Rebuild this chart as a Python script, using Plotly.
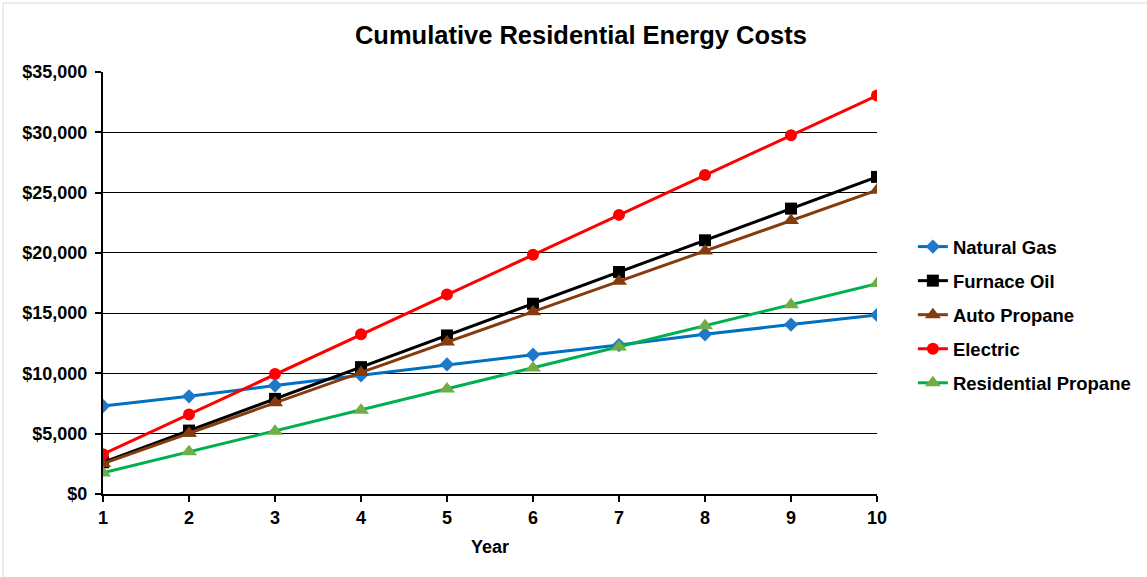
import plotly.graph_objects as go

years = [1, 2, 3, 4, 5, 6, 7, 8, 9, 10]
natural_gas = [7300, 8100, 9000, 9850, 10750, 11550, 12350, 13250, 14050, 14850]
furnace_oil = [2630, 5260, 7890, 10520, 13150, 15780, 18410, 21040, 23670, 26300]
auto_propane = [2520, 5040, 7560, 10080, 12600, 15120, 17640, 20160, 22680, 25200]
electric = [3300, 6600, 9950, 13250, 16550, 19850, 23150, 26450, 29750, 33050]
residential_propane = [1750, 3500, 5200, 6950, 8700, 10450, 12200, 13950, 15700, 17450]

y_ticks = [0, 5000, 10000, 15000, 20000, 25000, 30000, 35000]

series = [
    ("Natural Gas", natural_gas, "#0070C0", "#1F78C8", "diamond", 11),
    ("Furnace Oil", furnace_oil, "#000000", "#000000", "square", 12),
    ("Auto Propane", auto_propane, "#843C0C", "#843C0C", "triangle-up", 14),
    ("Electric", electric, "#FF0000", "#FF0000", "circle", 12),
    ("Residential Propane", residential_propane, "#00B050", "#70AD47", "triangle-up", 14),
]

fig = go.Figure()
for i, (name, vals, lc, mc, sym, size) in enumerate(series):
    fig.add_trace(go.Scatter(
        x=years, y=vals, name=f"<b>{name}</b>", mode="lines+markers",
        line=dict(color=lc, width=3),
        marker=dict(color=mc, symbol=sym, size=size),
        legendgroup=f"g{i}",
    ))

font_family = "Liberation Sans, Arial, sans-serif"

fig.update_layout(
    width=1147, height=577,
    margin=dict(l=103, r=269, t=72, b=83),
    paper_bgcolor="white", plot_bgcolor="white",
    font=dict(family=font_family, color="black"),
    title=dict(
        text="<b>Cumulative Residential Energy Costs</b>",
        x=0.5065, xref="container", xanchor="center",
        y=1 - 35 / 577, yref="container", yanchor="middle",
        font=dict(size=25.5, family=font_family, color="black"),
    ),
    showlegend=True,
    legend=dict(
        x=1.045, xanchor="left", y=0.424, yanchor="middle",
        font=dict(size=18.5, family=font_family, color="black"),
        tracegroupgap=7, itemwidth=30,
        bgcolor="rgba(0,0,0,0)",
    ),
    xaxis=dict(
        range=[1, 10], tickvals=years,
        ticktext=[f"<b>{y}</b>" for y in years],
        showgrid=False, zeroline=False,
        showline=True, linecolor="black", linewidth=2,
        ticks="outside", ticklen=6, tickcolor="black", tickwidth=1.5,
        tickfont=dict(size=18, family=font_family, color="black"),
        title=dict(text="<b>Year</b>", font=dict(size=18, family=font_family, color="black"), standoff=14),
    ),
    yaxis=dict(
        range=[0, 35000], tickvals=y_ticks,
        ticktext=[f"<b>${v:,}</b>" for v in y_ticks],
        showgrid=True, gridcolor="black", gridwidth=1,
        zeroline=False,
        showline=True, linecolor="black", linewidth=2,
        ticks="outside", ticklen=6, tickcolor="black", tickwidth=1.5,
        ticklabelstandoff=4,
        tickfont=dict(size=18, family=font_family, color="black"),
    ),
    shapes=[dict(
        type="rect", xref="paper", yref="paper",
        x0=(3 - 103) / 775, x1=(1160 - 103) / 775,
        y0=(494 - 590) / 422, y1=(494 - 3) / 422,
        line=dict(color="#D9D9D9", width=1), layer="below",
    )],
)

fig.write_html("out.html")
